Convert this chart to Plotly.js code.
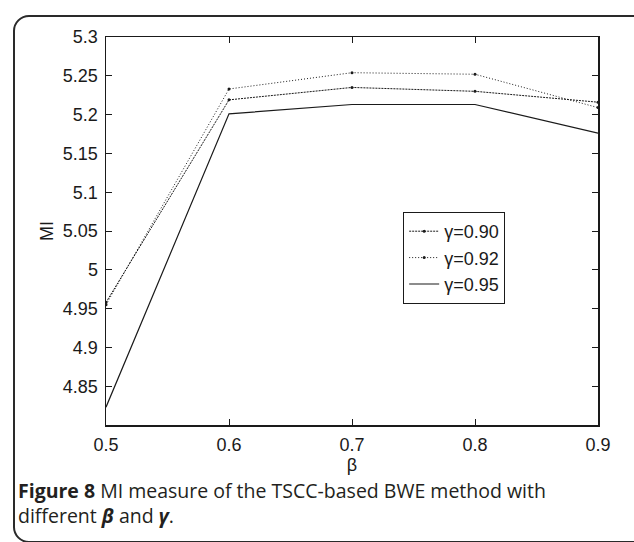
<!DOCTYPE html>
<html>
<head>
<meta charset="utf-8">
<script src="https://cdn.plot.ly/plotly-3.0.1.min.js"></script>
<style>
  html, body { margin: 0; padding: 0; background: #ffffff; }
  #wrap { position: relative; width: 634px; height: 542px; overflow: hidden; }
  #frame {
    position: absolute; left: 13px; top: 15px; width: 640px; height: 528px;
    border: 2px solid #2a2a2a; border-radius: 16px; box-sizing: border-box;
  }
  #chart { position: absolute; left: 0; top: 0; width: 634px; height: 542px; }
</style>
</head>
<body>
<div id="wrap">
  <div id="frame"></div>
  <div id="chart"></div>
</div>
<script>
// beta values on the x axis
const beta = [0.5, 0.6, 0.7, 0.8, 0.9];

// MI for each gamma setting
const mi_g090 = [4.958, 5.219, 5.235, 5.230, 5.216];
const mi_g092 = [4.955, 5.233, 5.254, 5.252, 5.209];
const mi_g095 = [4.823, 5.201, 5.213, 5.213, 5.176];

const seriesNames = ['\u03b3=0.90', '\u03b3=0.92', '\u03b3=0.95'];

const xTicks = [0.5, 0.6, 0.7, 0.8, 0.9];
const yTicks = [4.85, 4.9, 4.95, 5, 5.05, 5.1, 5.15, 5.2, 5.25, 5.3];
const yTickText = ['4.85', '4.9', '4.95', '5', '5.05', '5.1', '5.15', '5.2', '5.25', '5.3'];

const tickFont = { family: 'Liberation Sans, Arial, sans-serif', size: 18, color: '#1a1a1a' };
const captionFont = { family: 'Open Sans, Noto Sans, sans-serif', size: 19.5, color: '#231f20' };

const traces = [
  {
    x: beta, y: mi_g090, name: seriesNames[0], type: 'scatter', mode: 'lines+markers',
    line: { color: '#1a1a1a', width: 1, dash: '2px,1px' },
    marker: { size: 3, color: '#1a1a1a' }
  },
  {
    x: beta, y: mi_g092, name: seriesNames[1], type: 'scatter', mode: 'lines+markers',
    line: { color: '#1a1a1a', width: 1, dash: '1px,2px' },
    marker: { size: 3, color: '#1a1a1a' }
  },
  {
    x: beta, y: mi_g095, name: seriesNames[2], type: 'scatter', mode: 'lines',
    line: { color: '#1a1a1a', width: 1.2 }
  }
];

const layout = {
  width: 634, height: 542,
  margin: { l: 106, r: 36, t: 37, b: 117 },
  paper_bgcolor: 'rgba(0,0,0,0)',
  plot_bgcolor: '#ffffff',
  showlegend: true,
  legend: {
    x: 0.604, y: 0.549, xanchor: 'left', yanchor: 'top',
    bgcolor: '#ffffff', bordercolor: '#1a1a1a', borderwidth: 1,
    font: tickFont, tracegroupgap: 0
  },
  xaxis: {
    range: [0.5, 0.9], tickvals: xTicks, ticktext: xTicks.map(v => v.toFixed(1)),
    ticks: 'inside', ticklen: 6, tickcolor: '#1a1a1a', tickwidth: 1,
    showline: true, linecolor: '#1a1a1a', linewidth: 1.5, mirror: 'ticks',
    showgrid: false, zeroline: false, tickfont: tickFont, ticklabelstandoff: 3,
    title: { text: '\u03b2', font: tickFont, standoff: 1 }
  },
  yaxis: {
    range: [4.8, 5.3], tickvals: yTicks, ticktext: yTickText,
    ticks: 'inside', ticklen: 6, tickcolor: '#1a1a1a', tickwidth: 1,
    showline: true, linecolor: '#1a1a1a', linewidth: 1.5, mirror: 'ticks',
    showgrid: false, zeroline: false, tickfont: tickFont, ticklabelstandoff: 3,
    title: { text: 'MI', font: tickFont, standoff: 4 }
  },
  annotations: [
    {
      xref: 'paper', yref: 'paper', x: -0.183, y: -0.2, xanchor: 'left', yanchor: 'middle',
      showarrow: false, align: 'left', font: captionFont,
      text: '<b>Figure 8</b> MI measure of the TSCC-based BWE method with<br>' +
            'different <b><i>\u03b2</i></b> and <b><i>\u03b3</i></b>.'
    }
  ]
};

Plotly.newPlot('chart', traces, layout, { displayModeBar: false, staticPlot: true });
</script>
</body>
</html>
